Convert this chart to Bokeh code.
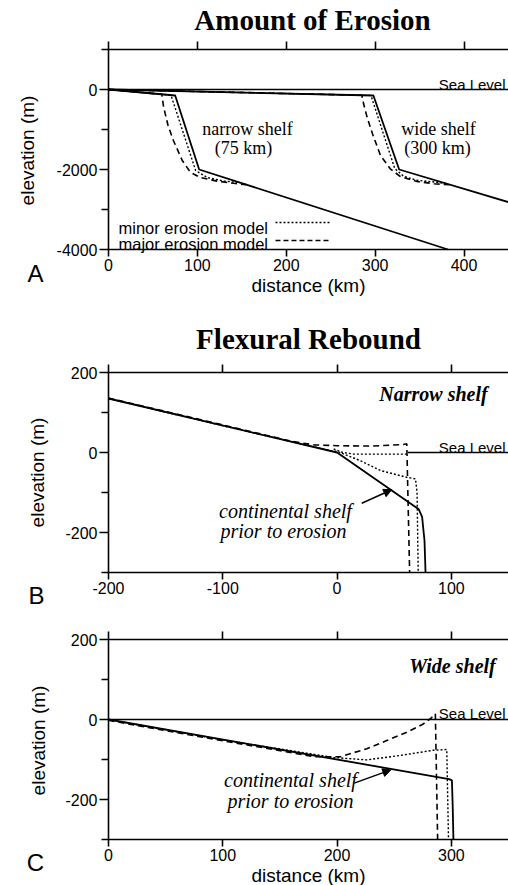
import math
from bokeh.plotting import figure
from bokeh.models import (Range1d, LinearAxis, FixedTicker, Label, Arrow, NormalHead)
from bokeh.layouts import column
from bokeh.embed import file_html
from bokeh.resources import INLINE

# ---------------- data : panel A (Amount of Erosion) ----------------
a_x_ticks = [0, 100, 200, 300, 400]
a_y_ticks = [-4000, -2000, 0]
a_y_minor = [-3000, -1000, 1000]

a_sea_x = [0, 450]
a_sea_y = [0, 0]
a_narrow_solid_x = [0, 75, 102, 382]
a_narrow_solid_y = [0, -150, -2000, -4000]
a_narrow_minor_x = [0, 69, 71, 98, 111, 130, 148]
a_narrow_minor_y = [0, -138, -190, -2025, -2200, -2290, -2329]
a_narrow_major_x = [0, 60, 62, 67, 73, 83, 92, 103, 122, 141, 155]
a_narrow_major_y = [0, -120, -440, -900, -1275, -1775, -2067, -2200, -2290, -2345, -2379]

a_wide_solid_x = [0, 298, 327, 450]
a_wide_solid_y = [0, -150, -2000, -2815]
a_wide_minor_x = [0, 294, 296, 322, 332, 347, 370, 380]
a_wide_minor_y = [0, -148, -200, -1975, -2170, -2270, -2320, -2351]
a_wide_major_x = [0, 285, 287, 291, 297, 306, 317, 328, 347, 366, 385]
a_wide_major_y = [0, -143, -358, -700, -1108, -1650, -1983, -2170, -2300, -2355, -2384]

# ---------------- data : panel B (Narrow shelf rebound) ----------------
b_x_ticks = [-200, -100, 0, 100]
b_y_ticks = [-200, 0, 200]
b_y_minor = [-300, -100, 100]

b_solid_x = [-200, 0, 71.5, 74.4, 76.5, 77.4]
b_solid_y = [135, 0, -142, -161, -220, -300]
b_major_x = [-200, -100, -40, -20, 0, 30, 58, 61, 63.5]
b_major_y = [136, 69, 28, 19, 17, 16, 20, 22, -300]
b_minor_x = [-200, -100, -5, 0, 20, 38, 61, 68.6, 70, 71]
b_minor_y = [135, 67, 4, 3, -20, -45, -62, -66, -100, -300]
b_minor2_x = [-3, 5, 15, 61]
b_minor2_y = [9, 0, -4, -4]
b_sea_x = [62, 150]
b_sea_y = [0, 0]

# ---------------- data : panel C (Wide shelf rebound) ----------------
c_x_ticks = [0, 100, 200, 300]
c_y_ticks = [-200, 0, 200]
c_y_minor = [-300, -100, 100]

c_sea_x = [0, 350]
c_sea_y = [0, 0]
c_solid_x = [0, 298, 300.5, 301.2, 301.8]
c_solid_y = [0, -149, -152, -220, -300]
c_major_x = [0, 60, 120, 180, 203, 226, 244, 261, 275, 282, 286, 288]
c_major_y = [-2, -33, -63, -93, -93, -73, -52, -32, -12, 3, 14, -300]
c_minor_x = [0, 100, 197, 226, 255, 284, 296, 296.5, 297.5]
c_minor_y = [0, -51, -95, -101, -90, -77, -75, -150, -300]

SANS = "Liberation Sans"
SERIF = "Liberation Serif"
SOLID_W = 1.8
DASH = "6 4"
DOT = "2 2"
PAGE_W = 508


class Panel:
    """One figure whose plotting frame fills the canvas; the axes are drawn at
    fixed data locations so titles, letters and axis titles stay inside the frame."""

    def __init__(self, height, frame, xr, yr, xt, yt, ym):
        l, r, t, b = frame
        self.sx = (r - l) / (xr[1] - xr[0])
        self.sy = (b - t) / (yr[1] - yr[0])
        self.x0 = xr[0] - l / self.sx
        self.y1 = yr[1] + t / self.sy
        x_end = xr[1] + (PAGE_W - r) / self.sx
        y_start = yr[0] - (height - b) / self.sy
        p = figure(width=PAGE_W, height=height, title=None,
                   x_range=Range1d(self.x0, x_end), y_range=Range1d(y_start, self.y1),
                   min_border=0, x_axis_location=None, y_axis_location=None,
                   output_backend="svg", toolbar_location=None)
        p.outline_line_color = None
        p.grid.grid_line_color = None
        p.background_fill_color = "white"
        p.border_fill_color = "white"
        self.p = p

        left = LinearAxis(ticker=FixedTicker(ticks=yt, minor_ticks=ym),
                          fixed_location=xr[0], bounds=yr)
        self._style(left, yt)
        left.major_tick_out = 9
        left.minor_tick_out = 7
        left.major_label_standoff = 2
        p.add_layout(left, "left")

        bot = LinearAxis(ticker=FixedTicker(ticks=xt, minor_ticks=[]),
                         fixed_location=yr[0], bounds=xr)
        self._style(bot, xt)
        bot.major_tick_out = 7
        bot.major_label_standoff = 2
        p.add_layout(bot, "below")

        top = LinearAxis(ticker=FixedTicker(ticks=xt, minor_ticks=[]),
                         fixed_location=yr[1], bounds=xr)
        self._style(top, xt)
        top.major_tick_out = 8
        top.major_label_overrides = {t_: "" for t_ in xt}
        top.major_label_standoff = 0
        p.add_layout(top, "above")

    @staticmethod
    def _style(ax, ticks):
        ax.axis_line_width = 1.6
        ax.axis_line_color = "black"
        ax.major_tick_line_width = 1.6
        ax.minor_tick_line_width = 1.4
        ax.major_tick_line_color = "black"
        ax.minor_tick_line_color = "black"
        ax.major_tick_in = 0
        ax.minor_tick_in = 0
        ax.major_label_text_font = SANS
        ax.major_label_text_font_size = "16px"
        ax.major_label_text_color = "black"
        ax.major_label_overrides = {t: str(t) for t in ticks}

    def pos(self, px, py):
        return self.x0 + px / self.sx, self.y1 - py / self.sy

    def text(self, px, py, s, font=SERIF, size="18px", style="normal",
             align="center", baseline="middle", angle=0.0):
        x, y = self.pos(px, py)
        self.p.add_layout(Label(x=x, y=y, text=s, text_font=font, text_font_size=size,
                                text_font_style=style, text_align=align, angle=angle,
                                text_baseline=baseline, text_color="black"))

    def ylabel(self, px, py):
        self.text(px, py, "elevation (m)", font=SANS, size="19px", angle=math.pi / 2)

    def xlabel(self, px, py):
        self.text(px, py, "distance (km)", font=SANS, size="19px")

    def letter(self, px, py, s):
        self.text(px, py, s, font=SANS, size="24px", baseline="alphabetic")

    def title(self, px, py, s):
        self.text(px, py, s, font=SERIF, size="29px", style="bold")

    def sea_label(self, py):
        self.text(505, py, "Sea Level", font=SANS, size="15px", align="right",
                  baseline="alphabetic")

    def solid(self, xs, ys, w=SOLID_W):
        self.p.line(xs, ys, line_color="black", line_width=w)

    def dotted(self, xs, ys):
        self.p.line(xs, ys, line_color="black", line_width=1.4, line_dash=DOT)

    def dashed(self, xs, ys):
        self.p.line(xs, ys, line_color="black", line_width=1.6, line_dash=DASH)

    def arrow(self, x0, y0, x1, y1):
        self.p.add_layout(Arrow(end=NormalHead(size=8, fill_color="black",
                                               line_color="black"),
                                x_start=x0, y_start=y0, x_end=x1, y_end=y1,
                                line_width=1.5, line_color="black"))


# ---------------- Panel A (canvas rows 0-300) ----------------
A = Panel(300, (108, 508, 49, 249), (0, 450), (-4000, 1000),
          a_x_ticks, a_y_ticks, a_y_minor)
A.solid(a_sea_x, a_sea_y, w=1.6)
A.solid(a_narrow_solid_x, a_narrow_solid_y)
A.solid(a_wide_solid_x, a_wide_solid_y)
A.dotted(a_narrow_minor_x, a_narrow_minor_y)
A.dotted(a_wide_minor_x, a_wide_minor_y)
A.dashed(a_narrow_major_x, a_narrow_major_y)
A.dashed(a_wide_major_x, a_wide_major_y)
A.title(312, 19, "Amount of Erosion")
A.sea_label(84)
A.text(247, 128, "narrow shelf")
A.text(243, 147, "(75 km)")
A.text(438, 128, "wide shelf")
A.text(437, 147, "(300 km)")
A.text(118, 227, "minor erosion model", font=SANS, size="16.5px", align="left",
       baseline="alphabetic")
A.text(118, 243, "major erosion model", font=SANS, size="16.5px", align="left",
       baseline="alphabetic")
k0, k1 = A.pos(275, 222), A.pos(331, 222)
A.p.line([k0[0], k1[0]], [k0[1], k1[1]], line_color="black", line_width=1.4,
         line_dash=DOT)
k0, k1 = A.pos(275, 240), A.pos(331, 240)
A.p.line([k0[0], k1[0]], [k0[1], k1[1]], line_color="black", line_width=1.6,
         line_dash="5 3")
A.ylabel(27, 150)
A.xlabel(308, 285)
A.letter(35, 273, "A")

# ---------------- Panel B (canvas rows 300-615) ----------------
B = Panel(315, (108, 508, 72, 272), (-200, 150), (-300, 200),
          b_x_ticks, b_y_ticks, b_y_minor)
B.solid(b_sea_x, b_sea_y, w=1.6)
B.solid(b_solid_x, b_solid_y)
B.dotted(b_minor_x, b_minor_y)
B.dotted(b_minor2_x, b_minor2_y)
B.dashed(b_major_x, b_major_y)
B.title(308, 38, "Flexural Rebound")
B.text(433, 93, "Narrow shelf", size="20px", style="bold italic")
B.sea_label(147)
B.text(285, 210, "continental shelf", size="20px", style="italic")
B.text(283, 230, "prior to erosion", size="20px", style="italic")
B.arrow(21.6, -127, 47.8, -93)
B.ylabel(37, 172)
B.letter(36, 295, "B")

# ---------------- Panel C (canvas rows 615-885) ----------------
C = Panel(270, (108, 508, 24, 224), (0, 350), (-300, 200),
          c_x_ticks, c_y_ticks, c_y_minor)
C.solid(c_sea_x, c_sea_y, w=1.6)
C.solid(c_solid_x, c_solid_y)
C.dotted(c_minor_x, c_minor_y)
C.dashed(c_major_x, c_major_y)
C.text(452, 50, "Wide shelf", size="20px", style="bold italic")
C.sea_label(98)
C.text(290, 164, "continental shelf", size="20px", style="italic")
C.text(290, 185, "prior to erosion", size="20px", style="italic")
C.arrow(215, -159, 247, -126)
C.ylabel(38, 125)
C.xlabel(308, 260)
C.letter(35, 247, "C")

layout = column(A.p, B.p, C.p, spacing=0)
open("out.html", "w").write(file_html(layout, INLINE))
